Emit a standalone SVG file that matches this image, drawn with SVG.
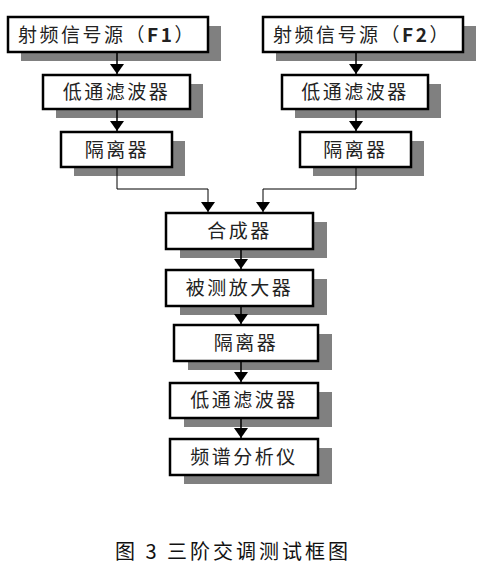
<svg xmlns="http://www.w3.org/2000/svg" width="501" height="581" viewBox="0 0 501 581">
<defs>
<style>
.sh{fill:#808080;}
.bx{fill:#ffffff;stroke:#000000;stroke-width:2.5;}
.lb{font-family:"Noto Sans CJK SC","Liberation Sans",sans-serif;font-size:19px;font-weight:normal;fill:#222222;text-anchor:middle;letter-spacing:2.5px;}
.lt{font-weight:bold;}
.ln{fill:none;stroke:#000000;stroke-width:1.5;}
.cap{font-family:"Noto Sans CJK SC","Liberation Sans",sans-serif;font-size:20px;fill:#111111;letter-spacing:3px;}
</style>
<marker id="ah" viewBox="0 0 10 14" refX="10" refY="7" markerWidth="10" markerHeight="14" markerUnits="userSpaceOnUse" orient="auto">
<path d="M0,0 L10,7 L0,14 Z" fill="#000000"/>
</marker>
</defs>
<rect width="501" height="581" fill="#ffffff"/>

<g id="n-f1">
<rect class="sh" x="21" y="26" width="200" height="35"/>
<rect class="bx" x="8" y="17" width="200" height="35"/>
<text class="lb" x="107" y="41.5">射频信号源（<tspan class="lt">F1</tspan>）</text>
</g>
<g id="n-lpf-l">
<rect class="sh" x="56" y="84" width="147" height="34"/>
<rect class="bx" x="43" y="75" width="147" height="34"/>
<text class="lb" x="116.5" y="99">低通滤波器</text>
</g>
<g id="n-iso-l">
<rect class="sh" x="74" y="141" width="111" height="35"/>
<rect class="bx" x="61" y="132" width="111" height="35"/>
<text class="lb" x="117" y="156.5">隔离器</text>
</g>
<g id="n-f2">
<rect class="sh" x="276" y="26" width="200" height="35"/>
<rect class="bx" x="263" y="17" width="200" height="35"/>
<text class="lb" x="362" y="41.5">射频信号源（<tspan class="lt">F2</tspan>）</text>
</g>
<g id="n-lpf-r">
<rect class="sh" x="295" y="84" width="146" height="34"/>
<rect class="bx" x="282" y="75" width="146" height="34"/>
<text class="lb" x="355" y="99">低通滤波器</text>
</g>
<g id="n-iso-r">
<rect class="sh" x="313" y="141" width="111" height="35"/>
<rect class="bx" x="300" y="132" width="111" height="35"/>
<text class="lb" x="355.5" y="156.5">隔离器</text>
</g>
<g id="n-comb">
<rect class="sh" x="180" y="222" width="147" height="36"/>
<rect class="bx" x="166" y="213" width="147" height="36"/>
<text class="lb" x="239.5" y="238">合成器</text>
</g>
<g id="n-dut">
<rect class="sh" x="180" y="279" width="147" height="36"/>
<rect class="bx" x="166" y="270" width="147" height="36"/>
<text class="lb" x="239.5" y="295">被测放大器</text>
</g>
<g id="n-iso-c">
<rect class="sh" x="188" y="334" width="144" height="36"/>
<rect class="bx" x="174" y="325" width="144" height="36"/>
<text class="lb" x="246" y="350">隔离器</text>
</g>
<g id="n-lpf-c">
<rect class="sh" x="184" y="392" width="148" height="35"/>
<rect class="bx" x="170" y="383" width="148" height="35"/>
<text class="lb" x="244" y="407">低通滤波器</text>
</g>
<g id="n-sa">
<rect class="sh" x="184" y="448" width="148" height="36"/>
<rect class="bx" x="170" y="439" width="148" height="36"/>
<text class="lb" x="244" y="464">频谱分析仪</text>
</g>

<g id="connectors">
<path class="ln" d="M117,53 V74" marker-end="url(#ah)"/>
<path class="ln" d="M117,110 V131" marker-end="url(#ah)"/>
<path class="ln" d="M356,53 V74" marker-end="url(#ah)"/>
<path class="ln" d="M356,110 V131" marker-end="url(#ah)"/>
<path class="ln" style="stroke-width:1" d="M117,168 V189 H208 V212" marker-end="url(#ah)"/>
<path class="ln" style="stroke-width:1" d="M356,168 V189 H263 V212" marker-end="url(#ah)"/>
<path class="ln" d="M241,250 V269" marker-end="url(#ah)"/>
<path class="ln" d="M241,307 V324" marker-end="url(#ah)"/>
<path class="ln" d="M241,362 V382" marker-end="url(#ah)"/>
<path class="ln" d="M241,419 V438" marker-end="url(#ah)"/>
</g>

<text class="cap" x="115" y="559">图 3 三阶交调测试框图</text>
</svg>
